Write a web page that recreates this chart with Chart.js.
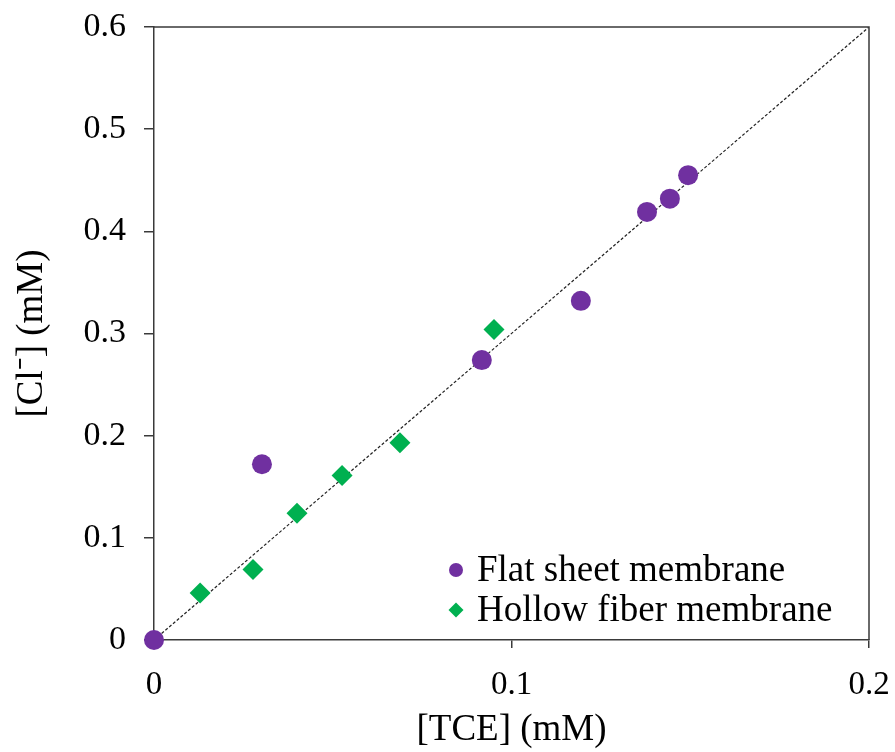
<!DOCTYPE html>
<html>
<head>
<meta charset="utf-8">
<script src="https://cdn.jsdelivr.net/npm/chart.js@4.4.0/dist/chart.umd.min.js"></script>
<style>
  html, body { margin: 0; padding: 0; background: #fff; }
  #wrap { width: 895px; height: 752px; }
</style>
</head>
<body>
<div id="wrap"><canvas id="c" width="895" height="752"></canvas></div>
<script>
// values
var flatX = [0, 0.0302, 0.0917, 0.1194, 0.1379, 0.1443, 0.1494];
var flatY = [0, 0.172, 0.274, 0.332, 0.419, 0.432, 0.455];
var hollowX = [0.0129, 0.0277, 0.0400, 0.0526, 0.0688, 0.0951];
var hollowY = [0.046, 0.069, 0.124, 0.161, 0.193, 0.304];
var lineX = [0, 0.2];
var lineY = [0, 0.6];
var xTicks = [0, 0.1, 0.2];
var yTicks = [0, 0.1, 0.2, 0.3, 0.4, 0.5, 0.6];

function pts(xs, ys) {
  return xs.map(function (x, i) { return { x: x, y: ys[i] }; });
}

var serif = "'Liberation Serif', 'Times New Roman', serif";
var axisCol = '#3a3a3a';

// box round the plot and legend inside it
var framePlugin = {
  id: 'frame',
  afterDraw: function (chart) {
    var ctx = chart.ctx, a = chart.chartArea;
    ctx.save();
    ctx.strokeStyle = axisCol;
    ctx.lineWidth = 1.5;
    ctx.beginPath();
    ctx.moveTo(a.left, a.top);
    ctx.lineTo(a.right, a.top);
    ctx.lineTo(a.right, a.bottom);
    ctx.stroke();

    var items = chart.data.datasets.filter(function (d) { return d.inLegend; });
    ctx.font = '37px ' + serif;
    ctx.textBaseline = 'middle';
    items.forEach(function (d, i) {
      var y = a.bottom - 70 + i * 40;
      var x = a.left + 302;
      ctx.fillStyle = d.backgroundColor;
      ctx.beginPath();
      if (d.pointStyle === 'rectRot') {
        ctx.moveTo(x, y - 7.5); ctx.lineTo(x + 7.5, y); ctx.lineTo(x, y + 7.5); ctx.lineTo(x - 7.5, y);
        ctx.closePath();
      } else {
        ctx.arc(x, y, 7, 0, Math.PI * 2);
      }
      ctx.fill();
      ctx.fillStyle = '#000';
      ctx.fillText(d.label, x + 21, y + 1);
    });
    ctx.restore();
  }
};

new Chart(document.getElementById('c').getContext('2d'), {
  type: 'scatter',
  data: {
    datasets: [
      {
        type: 'line',
        label: 'y = 3x',
        data: pts(lineX, lineY),
        borderColor: '#222',
        borderWidth: 1.2,
        borderDash: [3, 2],
        pointRadius: 0,
        fill: false,
        order: 3
      },
      {
        label: 'Flat sheet membrane',
        data: pts(flatX, flatY),
        backgroundColor: '#7030A0',
        borderWidth: 0,
        pointStyle: 'circle',
        pointRadius: 10,
        clip: false,
        inLegend: true,
        order: 1
      },
      {
        label: 'Hollow fiber membrane',
        data: pts(hollowX, hollowY),
        backgroundColor: '#00B050',
        borderWidth: 0,
        pointStyle: 'rectRot',
        pointRadius: 10.5,
        clip: false,
        inLegend: true,
        order: 2
      }
    ]
  },
  options: {
    responsive: false,
    animation: false,
    layout: { padding: { top: 27, right: 26, left: 0, bottom: 0 } },
    plugins: {
      legend: { display: false },
      tooltip: { enabled: false }
    },
    scales: {
      x: {
        type: 'linear',
        min: 0, max: 0.2,
        afterBuildTicks: function (s) { s.ticks = xTicks.map(function (v) { return { value: v }; }); },
        afterFit: function (s) { s.height = 112; s.paddingLeft = 0; s.paddingRight = 0; },
        grid: { drawOnChartArea: false, drawTicks: true, tickLength: 8, color: axisCol, lineWidth: 1.5 },
        border: { display: true, color: axisCol, width: 1.5 },
        ticks: {
          color: '#000', padding: 18,
          font: { family: serif, size: 33 },
          callback: function (v) { return String(v); }
        },
        title: {
          display: true, text: '[TCE] (mM)', color: '#000',
          font: { family: serif, size: 37 }, padding: { top: 0, bottom: 0 }
        }
      },
      y: {
        type: 'linear',
        min: 0, max: 0.6,
        afterBuildTicks: function (s) { s.ticks = yTicks.map(function (v) { return { value: v }; }); },
        afterFit: function (s) { s.width = 154; s.paddingTop = 0; s.paddingBottom = 0; },
        grid: { drawOnChartArea: false, drawTicks: true, tickLength: 10, color: axisCol, lineWidth: 1.5 },
        border: { display: true, color: axisCol, width: 1.5 },
        ticks: {
          color: '#000', padding: 18,
          font: { family: serif, size: 34 },
          callback: function (v) { return String(v); }
        },
        title: {
          display: true, text: '[Cl\u207B] (mM)', color: '#000',
          font: { family: serif, size: 37 }, padding: { top: 10, bottom: 0 }
        }
      }
    }
  },
  plugins: [framePlugin]
});
</script>
</body>
</html>
